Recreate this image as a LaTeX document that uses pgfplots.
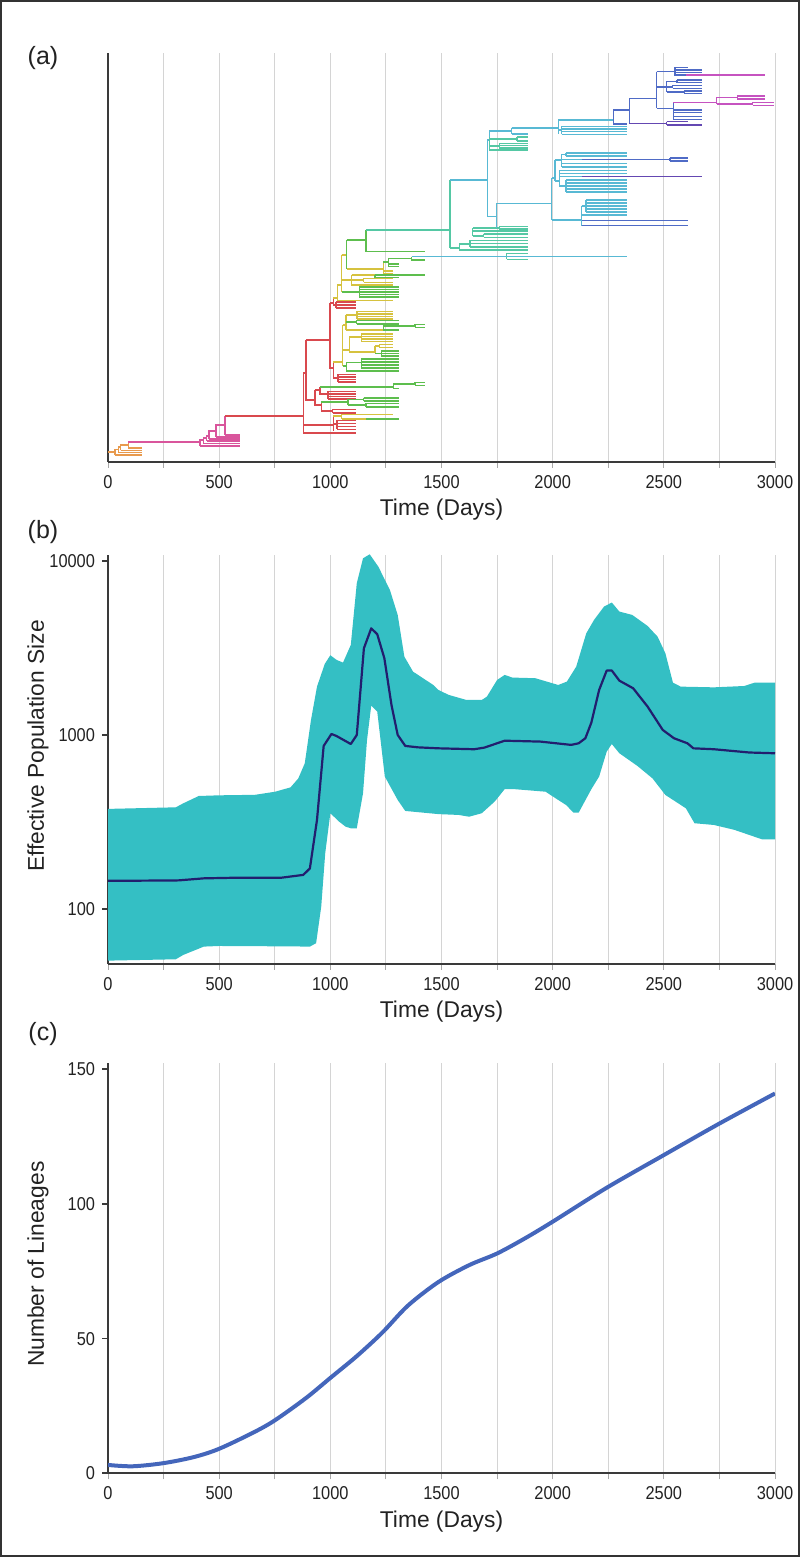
\documentclass[border=0pt]{standalone}
\usepackage{fontspec}
\setmainfont{Liberation Sans}
\newfontfamily\tickfam[FakeStretch=0.88]{Liberation Sans}
\usepackage{pgfplots}
\pgfplotsset{compat=1.18}
\usepgfplotslibrary{fillbetween}
\definecolor{axisC}{HTML}{3A3A3A}
\definecolor{gridC}{HTML}{D4D4D4}
\definecolor{xtickC}{HTML}{A8A8A8}
\definecolor{textC}{HTML}{222222}
\definecolor{frameC}{HTML}{333333}
\definecolor{orangeC}{HTML}{E89A4E}
\definecolor{pinkC}{HTML}{D9559C}
\definecolor{redC}{HTML}{D9494E}
\definecolor{yellowC}{HTML}{D6C23F}
\definecolor{greenC}{HTML}{5DBE4E}
\definecolor{tgreenC}{HTML}{55C8A4}
\definecolor{tealC}{HTML}{58B9D4}
\definecolor{blueC}{HTML}{4F6BC6}
\definecolor{purpleC}{HTML}{6448B2}
\definecolor{magentaC}{HTML}{C653C0}
\definecolor{bandC}{HTML}{34BFC4}
\definecolor{medC}{HTML}{221E6E}
\definecolor{lineC}{HTML}{4466BB}
\pgfplotsset{
 panel/.style={scale only axis, width=333.5bp, height=204.5bp, anchor=south west,
  axis lines=left, axis line style={-,line width=0.8bp,draw=axisC},
  xmin=0, xmax=3000, xtick={0,500,...,3000}, xticklabels={0,500,1000,1500,2000,2500,3000},
  minor xtick={250,750,...,2750}, xmajorgrids, xminorgrids,
  major grid style={line width=0.5bp,draw=gridC}, minor grid style={line width=0.5bp,draw=gridC},
  tick align=outside, major tick length=3bp, minor tick length=3bp,
  xtick style={draw=xtickC,line width=0.5bp}, ytick style={draw=axisC,line width=0.8bp},
  tick label style={font=\tickfam\fontsize{9.3bp}{11bp}\selectfont, text=textC},
  label style={font=\fontsize{11.4bp}{13bp}\selectfont, text=textC},
  xlabel={Time (Days)}, xlabel style={at={(axis description cs:0.5,0)}, anchor=center, yshift=-24bp},
  ylabel style={at={(axis description cs:0,0.51)}, anchor=center, yshift=35bp}},
 tree/.style={line width=0.7bp, line join=miter, mark=none}
}
\begin{document}
\begin{tikzpicture}
% ---------------- (a) tree
\begin{axis}[panel, at={(54bp,547.5bp)}, ymin=-462, ymax=-53, ytick=\empty, unbounded coords=jump]
\addplot[tree, orangeC] coordinates {
(0,-452)(31,-452)(0,nan)
(31,-455)(31,-449.5)(46,-449.5)(0,nan)
(31,-455)(152,-455)(0,nan)
(46,-452.5)(46,-447)(57,-447)(0,nan)
(46,-452.5)(152,-452.5)(0,nan)
(57,-450.5)(57,-445)(91,-445)(0,nan)
(57,-450.5)(152,-450.5)(0,nan)
(91,-448)(91,-442)(0,nan)
(91,-448)(152,-448)
};
\addplot[tree, pinkC] coordinates {
(91,-442)(414,-442)(0,nan)
(414,-446)(414,-440)(429,-440)(0,nan)
(414,-446)(594,-446)(0,nan)
(429,-443.5)(429,-438)(444,-438)(0,nan)
(429,-443.5)(594,-443.5)(0,nan)
(444,-441)(444,-436)(455,-436)(0,nan)
(444,-441)(594,-441)(0,nan)
(455,-439)(455,-431)(486,-431)(0,nan)
(455,-439)(594,-439)(0,nan)
(486,-437)(486,-425)(526,-425)(0,nan)
(486,-437)(594,-437)(0,nan)
(526,-435)(594,-435)(0,nan)
(526,-435)(526,-416)
};
\addplot[tree, redC] coordinates {
(526,-416)(878,-416)(0,nan)
(878,-373)(878,-433)(1115,-433)(0,nan)
(878,-373)(890,-373)(0,nan)
(878,-425)(1013,-425)(0,nan)
(890,-340)(890,-400)(931,-400)(0,nan)
(890,-340)(998,-340)(0,nan)
(998,-303)(998,-368)(1013,-368)(0,nan)
(998,-303)(1013,-303)(0,nan)
(1013,-362)(1013,-378)(1035,-378)(0,nan)
(1035,-374.5)(1035,-382)(0,nan)
(1035,-374.5)(1115,-374.5)(0,nan)
(1035,-377.2)(1115,-377.2)(0,nan)
(1035,-379.6)(1115,-379.6)(0,nan)
(1035,-382)(1115,-382)(0,nan)
(1013,-298)(1013,-305)(1025,-305)(0,nan)
(1025,-302)(1025,-308)(0,nan)
(1025,-302)(1115,-302)(0,nan)
(1025,-305)(1115,-305)(0,nan)
(1025,-308)(1115,-308)(0,nan)
(931,-390)(931,-405)(960,-405)(0,nan)
(931,-390)(953,-390)(0,nan)
(953,-387)(953,-394)(990,-394)(0,nan)
(990,-391.5)(990,-399)(0,nan)
(990,-391.5)(1115,-391.5)(0,nan)
(990,-394)(1115,-394)(0,nan)
(990,-396.5)(1115,-396.5)(0,nan)
(990,-399)(1115,-399)(0,nan)
(960,-402)(960,-411)(1010,-411)(0,nan)
(1010,-409.5)(1010,-413)(0,nan)
(1010,-409.5)(1115,-409.5)(0,nan)
(1010,-413)(1115,-413)(0,nan)
(1013,-416)(1013,-431)(0,nan)
(1013,-424)(1030,-424)(0,nan)
(1030,-420.5)(1030,-429.5)(0,nan)
(1030,-420.5)(1115,-420.5)(0,nan)
(1030,-423.5)(1115,-423.5)(0,nan)
(1030,-426.5)(1115,-426.5)(0,nan)
(1030,-429.5)(1115,-429.5)
};
\addplot[tree, yellowC] coordinates {
(1013,-362)(1056,-362)(0,nan)
(1013,-298)(1031,-298)(0,nan)
(1013,-416)(1051,-416)(0,nan)
(1051,-414.5)(1051,-419)(0,nan)
(1051,-414.5)(1283,-414.5)(0,nan)
(1051,-419)(1160,-419)(0,nan)
(1031,-285)(1031,-300.5)(1283,-300.5)(0,nan)
(1031,-285)(1051,-285)(0,nan)
(1051,-255)(1051,-292)(0,nan)
(1051,-255)(1074,-255)(0,nan)
(1051,-280)(1096,-280)(0,nan)
(1096,-275)(1096,-285)(1283,-285)(0,nan)
(1096,-280)(1150,-280)(0,nan)
(1150,-278.5)(1150,-282.5)(0,nan)
(1150,-278.5)(1283,-278.5)(0,nan)
(1150,-282.5)(1283,-282.5)(0,nan)
(1096,-275)(1200,-275)(0,nan)
(1074,-269)(1238,-269)(0,nan)
(1238,-262)(1238,-273.5)(0,nan)
(1238,-271)(1283,-271)(0,nan)
(1238,-273.5)(1283,-273.5)(0,nan)
(1056,-325)(1056,-366)(0,nan)
(1056,-325)(1070,-325)(0,nan)
(1056,-350)(1085,-350)(0,nan)
(1070,-315)(1070,-330)(0,nan)
(1070,-315)(1120,-315)(0,nan)
(1070,-330)(1238,-330)(0,nan)
(1120,-311.5)(1120,-319)(0,nan)
(1120,-311.5)(1283,-311.5)(0,nan)
(1120,-314)(1283,-314)(0,nan)
(1120,-316.5)(1283,-316.5)(0,nan)
(1120,-319)(1283,-319)(0,nan)
(1085,-337)(1085,-352)(0,nan)
(1085,-337)(1140,-337)(0,nan)
(1085,-352)(1200,-352)(0,nan)
(1140,-334)(1140,-341.5)(0,nan)
(1140,-334)(1283,-334)(0,nan)
(1140,-336.5)(1283,-336.5)(0,nan)
(1140,-339)(1283,-339)(0,nan)
(1140,-341.5)(1283,-341.5)(0,nan)
(1200,-346)(1200,-353.5)(0,nan)
(1200,-346)(1220,-346)(0,nan)
(1220,-344.5)(1220,-347.5)(0,nan)
(1220,-344.5)(1283,-344.5)(0,nan)
(1220,-347.5)(1283,-347.5)
};
\addplot[tree, greenC] coordinates {
(1051,-292)(1130,-292)(0,nan)
(1130,-287)(1130,-297)(0,nan)
(1130,-287)(1310,-287)(0,nan)
(1130,-289.5)(1310,-289.5)(0,nan)
(1130,-292)(1310,-292)(0,nan)
(1130,-294.5)(1310,-294.5)(0,nan)
(1130,-297)(1310,-297)(0,nan)
(1200,-275)(1426,-275)(0,nan)
(1200,-275)(1200,-277.5)(1310,-277.5)(0,nan)
(1074,-240)(1074,-269)(0,nan)
(1074,-240)(1160,-240)(0,nan)
(1160,-230)(1160,-251.7)(1426,-251.7)(0,nan)
(1238,-262)(1261,-262)(0,nan)
(1261,-258.5)(1261,-266.5)(0,nan)
(1261,-264)(1310,-264)(0,nan)
(1261,-266.5)(1310,-266.5)(0,nan)
(1261,-258.5)(1366,-258.5)(0,nan)
(1366,-256.7)(1366,-260)(1426,-260)(0,nan)
(1070,-322)(1118,-322)(0,nan)
(1118,-320.5)(1118,-324)(0,nan)
(1118,-320.5)(1310,-320.5)(0,nan)
(1118,-324)(1310,-324)(0,nan)
(1238,-326)(1238,-330)(1310,-330)(0,nan)
(1238,-326)(1380,-326)(0,nan)
(1380,-324.5)(1380,-327.5)(0,nan)
(1380,-324.5)(1426,-324.5)(0,nan)
(1380,-327.5)(1426,-327.5)(0,nan)
(1056,-366)(1074,-366)(0,nan)
(1074,-362.5)(1074,-371)(1310,-371)(0,nan)
(1074,-362.5)(1140,-362.5)(0,nan)
(1140,-359)(1140,-368)(0,nan)
(1140,-359)(1310,-359)(0,nan)
(1140,-362)(1310,-362)(0,nan)
(1140,-365)(1310,-365)(0,nan)
(1140,-368)(1310,-368)(0,nan)
(1200,-353.5)(1230,-353.5)(0,nan)
(1230,-351)(1230,-356)(0,nan)
(1230,-351)(1310,-351)(0,nan)
(1230,-353.5)(1310,-353.5)(0,nan)
(1230,-356)(1310,-356)(0,nan)
(953,-387)(1283,-387)(0,nan)
(1283,-384)(1283,-388.5)(1310,-388.5)(0,nan)
(1283,-384)(1380,-384)(0,nan)
(1380,-382.5)(1380,-385.5)(0,nan)
(1380,-382.5)(1426,-382.5)(0,nan)
(1380,-385.5)(1426,-385.5)(0,nan)
(960,-402)(1080,-402)(0,nan)
(1080,-399.5)(1080,-405)(0,nan)
(1080,-399.5)(1150,-399.5)(0,nan)
(1150,-398)(1150,-401)(0,nan)
(1150,-398)(1310,-398)(0,nan)
(1150,-401)(1310,-401)(0,nan)
(1080,-405)(1160,-405)(0,nan)
(1160,-403.5)(1160,-407)(0,nan)
(1160,-403.5)(1310,-403.5)(0,nan)
(1160,-407)(1310,-407)(0,nan)
(1160,-419)(1310,-419)
};
\addplot[tree, tgreenC] coordinates {
(1160,-230)(1538,-230)(0,nan)
(1538,-180)(1538,-248)(0,nan)
(1538,-248)(1580,-248)(0,nan)
(1580,-244)(1580,-250)(0,nan)
(1580,-244)(1628,-244)(0,nan)
(1580,-250)(1890,-250)(0,nan)
(1628,-240.5)(1628,-247)(0,nan)
(1628,-240.5)(1890,-240.5)(0,nan)
(1628,-247)(1890,-247)(0,nan)
(1628,-243.7)(1890,-243.7)(0,nan)
(1748,-228)(1640,-228)(0,nan)
(1640,-228)(1640,-236)(0,nan)
(1640,-228)(1640,-231)(1890,-231)(0,nan)
(1640,-236)(1690,-236)(0,nan)
(1690,-234)(1690,-237.5)(0,nan)
(1690,-234)(1890,-234)(0,nan)
(1690,-237.5)(1890,-237.5)(0,nan)
(1748,-228)(1760,-228)(0,nan)
(1760,-226.5)(1760,-229)(0,nan)
(1760,-226.5)(1890,-226.5)(0,nan)
(1760,-229)(1890,-229)(0,nan)
(1715,-137)(1715,-150)(0,nan)
(1715,-150)(1890,-150)(0,nan)
(1715,-146)(1760,-146)(0,nan)
(1760,-143.5)(1760,-148)(0,nan)
(1760,-143.5)(1890,-143.5)(0,nan)
(1760,-148)(1890,-148)(0,nan)
(1760,-145.7)(1890,-145.7)(0,nan)
(1715,-139)(1840,-139)(0,nan)
(1840,-137)(1840,-141)(0,nan)
(1840,-137)(1890,-137)(0,nan)
(1840,-141)(1890,-141)(0,nan)
(1793,-253.5)(1793,-259.5)(0,nan)
(1793,-253.5)(1890,-253.5)(0,nan)
(1793,-259.5)(1890,-259.5)
};
\addplot[tree, tealC] coordinates {
(1366,-256.7)(2333,-256.7)(0,nan)
(1538,-180)(1706,-180)(0,nan)
(1706,-140)(1706,-216.7)(0,nan)
(1706,-140)(1715,-140)(0,nan)
(1715,-137)(1715,-131)(1815,-131)(0,nan)
(1815,-128)(1815,-134)(0,nan)
(1815,-128)(2025,-128)(0,nan)
(1815,-134)(1890,-134)(0,nan)
(1706,-216.7)(1748,-216.7)(0,nan)
(1748,-203.3)(1748,-228)(0,nan)
(1748,-203.3)(1996,-203.3)(0,nan)
(1996,-178)(1996,-220)(0,nan)
(1996,-178)(2010,-178)(0,nan)
(1996,-220)(2130,-220)(0,nan)
(2010,-160)(2010,-181)(0,nan)
(2010,-160)(2040,-160)(0,nan)
(2010,-181)(2030,-181)(0,nan)
(2040,-154.5)(2040,-167)(0,nan)
(2040,-154.5)(2060,-154.5)(0,nan)
(2060,-153)(2060,-156)(0,nan)
(2060,-153)(2333,-153)(0,nan)
(2060,-156)(2333,-156)(0,nan)
(2040,-159.3)(2130,-159.3)(0,nan)
(2040,-163.5)(2333,-163.5)(0,nan)
(2040,-167)(2333,-167)(0,nan)
(2030,-170.5)(2030,-186)(0,nan)
(2030,-170.5)(2333,-170.5)(0,nan)
(2030,-173.5)(2333,-173.5)(0,nan)
(2030,-176.7)(2130,-176.7)(0,nan)
(2030,-186)(2060,-186)(0,nan)
(2060,-180)(2060,-192)(0,nan)
(2060,-180)(2333,-180)(0,nan)
(2060,-183)(2333,-183)(0,nan)
(2060,-186)(2333,-186)(0,nan)
(2060,-189)(2333,-189)(0,nan)
(2060,-192)(2333,-192)(0,nan)
(2130,-206)(2130,-225.7)(0,nan)
(2130,-206)(2150,-206)(0,nan)
(2150,-200)(2150,-212)(0,nan)
(2150,-200)(2333,-200)(0,nan)
(2150,-203)(2333,-203)(0,nan)
(2150,-206)(2333,-206)(0,nan)
(2150,-209)(2333,-209)(0,nan)
(2150,-212)(2333,-212)(0,nan)
(2130,-215)(2333,-215)(0,nan)
(2025,-120)(2025,-134.5)(0,nan)
(2025,-120)(2273,-120)(0,nan)
(2025,-130)(2040,-130)(0,nan)
(2040,-126.5)(2040,-134.5)(0,nan)
(2040,-126.5)(2333,-126.5)(0,nan)
(2040,-129)(2333,-129)(0,nan)
(2040,-131.5)(2333,-131.5)(0,nan)
(2040,-134.5)(2333,-134.5)
};
\addplot[tree, blueC] coordinates {
(2273,-110)(2273,-124)(2333,-124)(0,nan)
(2273,-110)(2345,-110)(0,nan)
(2345,-98.3)(2345,-123.3)(0,nan)
(2345,-98.3)(2468,-98.3)(0,nan)
(2468,-71.7)(2468,-108.3)(0,nan)
(2468,-71.7)(2550,-71.7)(0,nan)
(2468,-87)(2513,-87)(0,nan)
(2468,-108.3)(2543,-108.3)(0,nan)
(2550,-67.3)(2550,-75)(2600,-75)(0,nan)
(2550,-67.3)(2610,-67.3)(0,nan)
(2550,-70)(2670,-70)(0,nan)
(2550,-72.7)(2670,-72.7)(0,nan)
(2513,-81.3)(2513,-92.2)(0,nan)
(2513,-81.3)(2560,-81.3)(0,nan)
(2560,-80)(2560,-82.7)(0,nan)
(2560,-80)(2670,-80)(0,nan)
(2560,-82.7)(2670,-82.7)(0,nan)
(2513,-86.9)(2540,-86.9)(0,nan)
(2540,-85.5)(2540,-88.3)(0,nan)
(2540,-85.5)(2670,-85.5)(0,nan)
(2540,-88.3)(2670,-88.3)(0,nan)
(2513,-92.2)(2590,-92.2)(0,nan)
(2590,-91)(2590,-93.5)(0,nan)
(2590,-91)(2670,-91)(0,nan)
(2590,-93.5)(2670,-93.5)(0,nan)
(2543,-102.7)(2543,-119.3)(0,nan)
(2543,-110)(2670,-110)(0,nan)
(2543,-112.7)(2670,-112.7)(0,nan)
(2543,-116.7)(2670,-116.7)(0,nan)
(2543,-119.3)(2670,-119.3)(0,nan)
(2130,-159.3)(2528,-159.3)(0,nan)
(2528,-158)(2528,-161)(0,nan)
(2528,-158)(2610,-158)(0,nan)
(2528,-161)(2610,-161)(0,nan)
(2130,-220.7)(2610,-220.7)(0,nan)
(2130,-225.7)(2610,-225.7)
};
\addplot[tree, purpleC] coordinates {
(2345,-123.3)(2513,-123.3)(0,nan)
(2513,-121.7)(2513,-125)(0,nan)
(2513,-121.7)(2610,-121.7)(0,nan)
(2513,-125)(2670,-125)(0,nan)
(2130,-176.7)(2670,-176.7)
};
\addplot[tree, magentaC] coordinates {
(2600,-75)(2955,-75)(0,nan)
(2543,-102.7)(2738,-102.7)(0,nan)
(2738,-97.5)(2738,-104)(0,nan)
(2738,-97.5)(2830,-97.5)(0,nan)
(2830,-96)(2830,-99)(0,nan)
(2830,-96)(2955,-96)(0,nan)
(2830,-99)(2955,-99)(0,nan)
(2738,-104)(2900,-104)(0,nan)
(2900,-102.5)(2900,-105.5)(0,nan)
(2900,-102.5)(2995,-102.5)(0,nan)
(2900,-105.5)(2995,-105.5)
};
\end{axis}
% ---------------- (b) effective population size
\begin{axis}[panel, at={(54bp,296.5bp)}, ymode=log, ymin=48.3, ymax=10820,
  ytick={100,1000,10000}, yticklabels={100,1000,10000}, yminorticks=false,
  ylabel={Effective Population Size}, ylabel style={at={(axis description cs:0,0.533)}}]
\addplot[name path=up, draw=none, mark=none] coordinates {
(0,376)(305,384)(339,405)(408,446)(500,450)(661,453)(752,472)(821,500)(856,563)(885,687)
(913,1219)(940,1896)(975,2561)(1000,2872)(1028,2700)(1057,2606)(1092,3289)(1119,7450)
(1147,10350)(1177,10920)(1216,9270)(1268,6810)(1303,4895)(1333,2818)(1372,2312)(1463,1938)
(1486,1815)(1532,1700)(1612,1589)(1681,1589)(1704,1660)(1750,2070)(1784,2213)(1819,2137)
(1922,2119)(2025,1938)(2064,2026)(2106,2471)(2151,3836)(2186,4581)(2231,5466)(2266,5769)
(2300,5118)(2358,4895)(2427,4230)(2472,3672)(2507,2945)(2541,1998)(2576,1896)(2725,1878)
(2862,1912)(2908,1998)(3000,1998)
};
\addplot[name path=lo, draw=none, mark=none] coordinates {
(0,50.5)(305,51.4)(339,54.5)(431,60.8)(500,61.3)(798,61)(908,60.8)(936,63.6)(959,103)
(977,209)(1000,355)(1039,318)(1069,297)(1092,291)(1119,291)(1147,462)(1165,936)(1184,1475)
(1211,1362)(1245,577)(1303,423)(1337,366)(1486,351)(1578,347)(1624,339)(1681,355)(1739,414)
(1784,488)(1830,488)(1968,472)(2014,432)(2060,396)(2094,358)(2117,358)(2174,488)(2209,577)
(2243,802)(2266,887)(2300,785)(2381,664)(2449,563)(2507,452)(2553,414)(2599,379)(2638,311)
(2725,304)(2817,285)(2943,251)(3000,251)
};
\addplot[fill=bandC, draw=none] fill between[of=up and lo];
\addplot[medC, line width=1.1bp, line join=round, mark=none] coordinates {
(0,145.5)(150,145.5)(317,146)(431,150)(546,151)(775,151)(878,157)(908,171)(940,325)(970,865)
(1005,1013)(1028,986)(1092,887)(1119,1000)(1151,3150)(1184,4100)(1211,3790)(1243,2760)
(1275,1487)(1303,1000)(1337,865)(1394,849)(1486,838)(1647,828)(1693,846)(1784,927)(1945,916)
(2083,877)(2117,896)(2147,957)(2174,1178)(2209,1815)(2243,2345)(2266,2345)(2300,2052)
(2362,1855)(2427,1455)(2495,1069)(2546,957)(2606,896)(2633,838)(2725,828)(2885,793)(3000,785)
};
\end{axis}
% ---------------- (c) lineages through time
\begin{axis}[panel, at={(54bp,41.85bp)}, height=205bp, ymin=0, ymax=152.2,
  ytick={0,50,100,150}, yticklabels={0,50,100,150}, ylabel={Number of Lineages}]
\addplot[lineC, line width=2bp, smooth, mark=none] coordinates {
(0,3.1)(110,2.6)(248,3.75)(385,6)(500,9.1)(660,15.4)(752,19.75)(890,27.9)(1000,35.4)
(1119,43.5)(1234,52.25)(1349,62.25)(1486,71)(1624,77.25)(1750,81.6)(1876,87.25)(2002,93.5)
(2243,106)(2495,117.9)(2748,129.75)(3000,141)
};
\end{axis}
\node[font=\fontsize{12.5bp}{14bp}\selectfont, text=textC] at (21.5bp,749.5bp) {(a)};
\node[font=\fontsize{12.5bp}{14bp}\selectfont, text=textC] at (21.5bp,512.5bp) {(b)};
\node[font=\fontsize{12.5bp}{14bp}\selectfont, text=textC] at (21.5bp,261.5bp) {(c)};
\draw[line width=1.2bp, frameC] (0.6bp,0.6bp) rectangle (399.4bp,777.9bp);
\end{tikzpicture}
\end{document}
